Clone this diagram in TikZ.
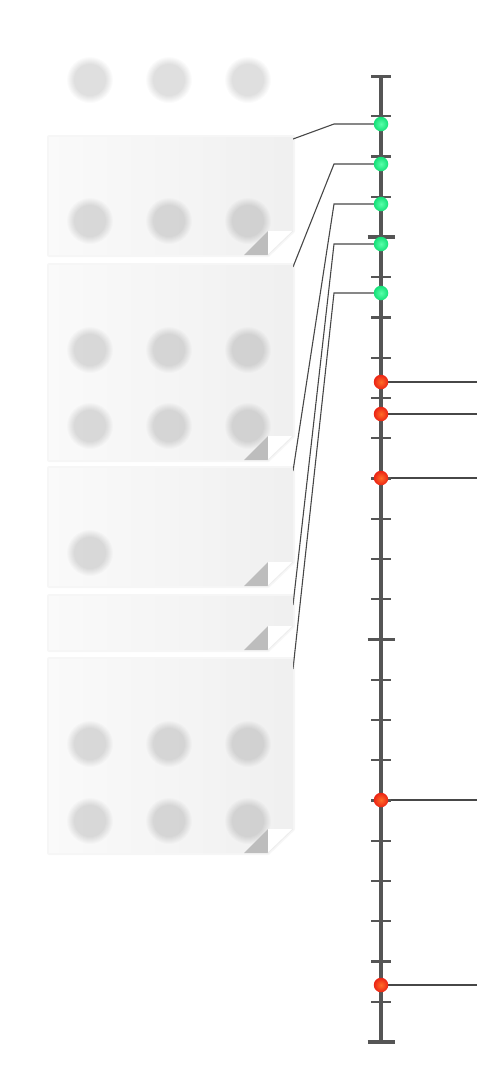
\documentclass[tikz,border=0pt]{standalone}
\usepackage{tikz}
\usetikzlibrary{
  backgrounds,
  calc,
  positioning
}
\tikzset{>=stealth}
\definecolor{axisgray}{HTML}{555555}
\definecolor{greenin}{RGB}{90,255,170}
\definecolor{greenout}{RGB}{20,225,120}
\definecolor{redin}{RGB}{255,110,40}
\definecolor{redout}{RGB}{235,35,20}
\tikzset{
  axisline/.style={draw=axisgray, line width=4.5pt},
  tickthin/.style={draw=axisgray, line width=1.6pt},
  tickmid/.style={draw=axisgray, line width=2.4pt},
  tickbig/.style={draw=axisgray, line width=3.6pt},
  link/.style={draw=black!72, line width=1.1pt},
  greendot/.style={circle, inner sep=0pt, minimum size=14.5pt, shading=radial, inner color=greenin, outer color=greenout},
  reddot/.style={circle, inner sep=0pt, minimum size=14.5pt, shading=radial, inner color=redin, outer color=redout},
  paper/.style={left color=black!2, right color=black!6},
  papershadow/.style={draw=black, opacity=0.035, line width=4pt, line join=round},
  blob/.style={fill=black, opacity=0.016}
}

\begin{document}
\begin{tikzpicture}[x=1pt, y=-1pt]
			\useasboundingbox (0,0) rectangle (480,1080);
			\foreach \N/\T/\B in {1/137/255, 2/265/460, 3/468/586, 4/596/650, 5/659/853}{
				\coordinate (N\N) at (293,\T);
				\draw[papershadow] (49,\T) -- (293,\T) -- (293,\B-24) -- (268,\B) -- (49,\B) -- cycle;
				\shade[paper] (49,\T) -- (293,\T) -- (293,\B-24) -- (268,\B) -- (49,\B) -- cycle;
			}
			\foreach \x/\y in {90/80, 169/80, 248/80, 90/221, 169/221, 248/221, 90/350, 169/350, 248/350,
				90/426, 169/426, 248/426, 90/553, 90/744, 169/744, 248/744, 90/821, 169/821, 248/821}{
				\foreach \r in {16,...,23}
					\fill[blob] (\x,\y) circle (\r);
			}
			\foreach \B in {255, 460, 586, 650, 853}{
				\fill[black!26] (244,\B) -- (268,\B-24) -- (268,\B) -- cycle;
				\fill[white] (268,\B-24) -- (293,\B-24) -- (268,\B) -- cycle;
				\draw[black!7, line width=0.8pt] (293,\B-24) -- (268,\B);
			}
			\coordinate (T) at (381,76);
			\coordinate (B) at (381,1042);
			\draw[axisline] (T) -- (B);
			\foreach \k in {1,3,...,23}
				\draw[tickthin] ($(T)!\k/24!(B)$) ++(-10,0) -- ++(20,0);
			\foreach \k in {2,6,8,10,12,16,18,20,22}
				\draw[tickmid] ($(T)!\k/24!(B)$) ++(-10,0) -- ++(20,0);
			\foreach \k in {4,14,24}
				\draw[tickbig] ($(T)!\k/24!(B)$) ++(-13.5,0) -- ++(27,0);
			\draw[tickbig, line width=3pt] (T) ++(-10,0) -- ++(20,0);
			\foreach \i/\y in {1/124, 2/164, 3/204, 4/244, 5/293}
				\node[greendot] (G\i) at (381,\y) {};
			\foreach \i/\y in {1/382, 2/414, 3/478, 4/800, 5/985}
				\node[reddot] (R\i) at (381,\y) {};
			\coordinate (K) at (334,0);
			\coordinate (E) at (477,0);
			\coordinate (P1) at (293,139);
			\coordinate (P2) at (293,267);
			\coordinate (P3) at (293,471);
			\coordinate (P4) at (293,605);
			\coordinate (P5) at (293,669);
			\begin{scope}[on background layer]
				\foreach \i in {1,...,5}{
					\draw[link] (G\i.center) -- (G\i -| K) -- (P\i);
					\draw[link] (R\i.center) -- (R\i -| E);
				}
			\end{scope}
		\end{tikzpicture}
\end{document}
